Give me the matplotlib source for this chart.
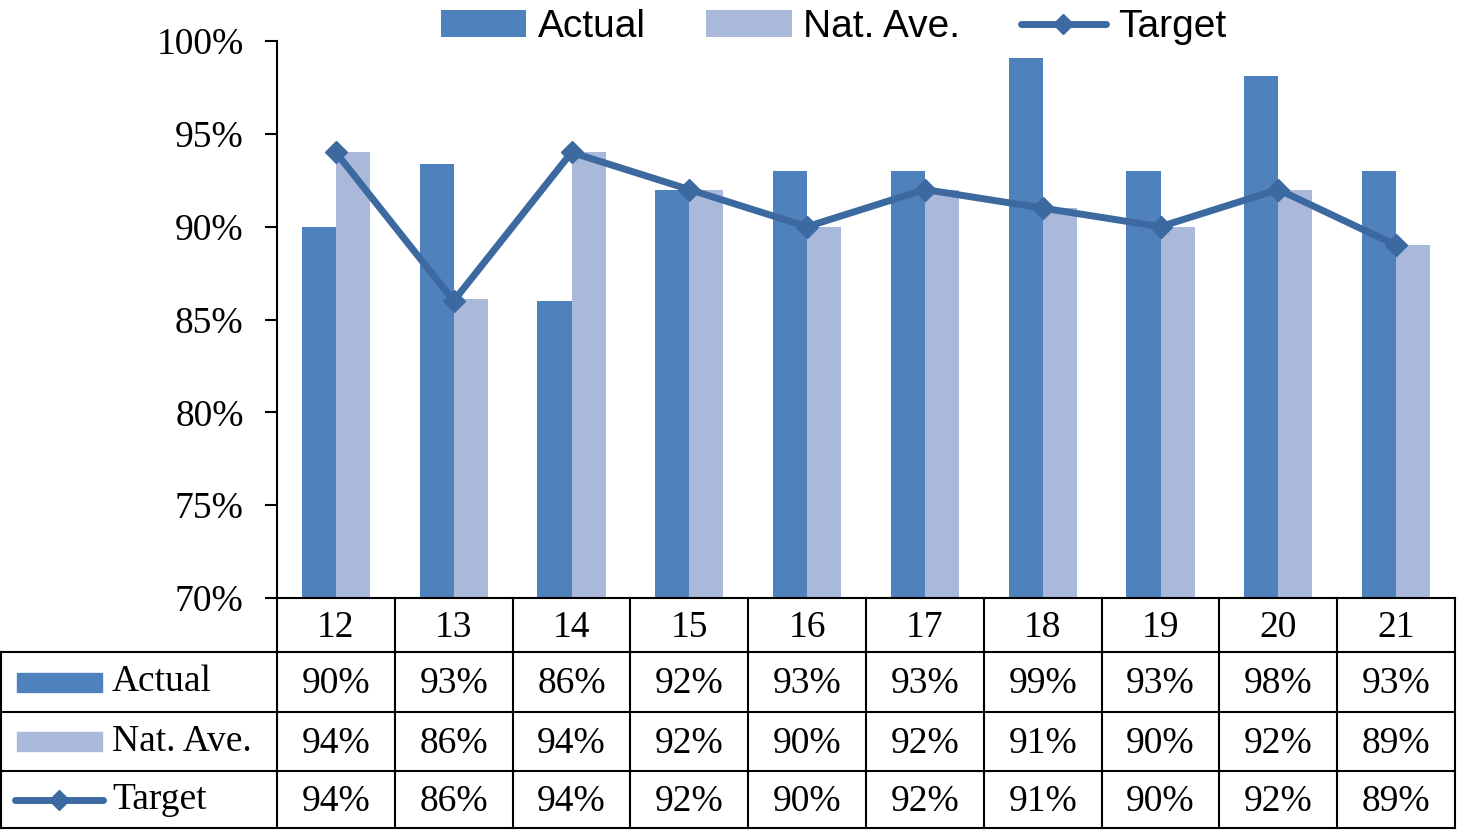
import numpy as np
import matplotlib
matplotlib.use("Agg")
import matplotlib.pyplot as plt
from matplotlib.patches import Rectangle
from matplotlib.lines import Line2D
from matplotlib.transforms import blended_transform_factory

# datos
categorias = ["12", "13", "14", "15", "16", "17", "18", "19", "20", "21"]
actual = [90.0, 93.4, 86.0, 92.0, 93.0, 93.0, 99.1, 93.0, 98.1, 93.0]
nat_ave = [94.0, 86.1, 94.0, 92.0, 90.0, 92.0, 91.0, 90.0, 92.0, 89.0]
target = [94.0, 86.0, 94.0, 92.0, 90.0, 92.0, 91.0, 90.0, 92.0, 89.0]
series_nombres = ["Actual", "Nat. Ave.", "Target"]
yticks = [70, 75, 80, 85, 90, 95, 100]

c_actual = "#4F81BD"
c_nat = "#AAB9D9"
c_target = "#3C6AA0"

serif = "Liberation Serif"
sans = "Liberation Sans"
fs = 27

W, H = 1457, 830
fig = plt.figure(figsize=(W / 100, H / 100), dpi=100)
ax = fig.add_axes([277 / W, 1 - 598 / H, (1455 - 277) / W, (598 - 41) / H])

x = np.arange(len(categorias))
bw = 0.29
b1 = ax.bar(x - bw / 2, actual, bw, color=c_actual, label=series_nombres[0], zorder=2)
b2 = ax.bar(x + bw / 2, nat_ave, bw, color=c_nat, label=series_nombres[1], zorder=2)
l1, = ax.plot(x, target, color=c_target, lw=5, marker="D", ms=11,
              label=series_nombres[2], zorder=3, solid_capstyle="round")

ax.set_xlim(-0.5, len(categorias) - 0.5)
ax.set_ylim(70, 100)
ax.set_yticks(yticks)
ax.set_yticklabels([f"{v}%" for v in yticks], fontfamily=serif, fontsize=fs)
ax.tick_params(axis="y", length=9, width=1.5, pad=15)
ax.set_xticks([])
for s in ["top", "right", "bottom"]:
    ax.spines[s].set_visible(False)
ax.spines["left"].set_linewidth(1.5)

# leyenda superior
fig.legend(handles=[b1, b2, l1], loc="upper center", bbox_to_anchor=(0.572, 1.031),
           ncol=3, frameon=False, prop={"family": sans, "size": 28},
           handlelength=2.2, handletextpad=0.3, columnspacing=1.55, markerscale=0.9)

# tabla de datos
tr = blended_transform_factory(ax.transData, fig.transFigure)
ftr = fig.transFigure
lw = 1.5
y_rows = [598, 652, 712, 771, 828]
yf = [1 - v / H for v in y_rows]
xl, xr = -0.5, len(categorias) - 0.5

# lineas horizontales
ax.add_line(Line2D([xl, xr], [yf[0], yf[0]], transform=tr, color="black", lw=lw, clip_on=False))
for yy in yf[1:]:
    fig.add_artist(Line2D([1 / W, 1455 / W], [yy, yy], transform=ftr, color="black", lw=lw))
# verticales
for k in range(len(categorias) + 1):
    ax.add_line(Line2D([xl + k, xl + k], [yf[0], yf[-1]], transform=tr, color="black",
                       lw=lw, clip_on=False))
fig.add_artist(Line2D([1 / W, 1 / W], [yf[1], yf[-1]], transform=ftr, color="black", lw=lw))

# encabezados
for i, c in enumerate(categorias):
    ax.text(x[i], (yf[0] + yf[1]) / 2 - 3 / H, c, transform=tr, ha="center", va="center",
            fontfamily=serif, fontsize=fs)

filas = [actual, nat_ave, target]
for r, vals in enumerate(filas):
    yc = (yf[r + 1] + yf[r + 2]) / 2
    for i, v in enumerate(vals):
        ax.text(x[i], yc - 2 / H, f"{round(v):.0f}%", transform=tr, ha="center", va="center",
                fontfamily=serif, fontsize=fs)
    fig.text(112 / W, yc, series_nombres[r], ha="left", va="center",
             fontfamily=serif, fontsize=fs)

# claves de la tabla
kh = 19 / H
for r, col in enumerate([c_actual, c_nat]):
    yc = (yf[r + 1] + yf[r + 2]) / 2
    fig.add_artist(Rectangle((17 / W, yc - kh / 2), 85 / W, kh, transform=ftr,
                             color=col))
yc = (yf[3] + yf[4]) / 2
fig.add_artist(Line2D([15 / W, 103 / W], [yc, yc], transform=ftr, color=c_target, lw=5,
                      solid_capstyle="round"))
fig.add_artist(Line2D([59 / W], [yc], transform=ftr, color=c_target, marker="D", ms=10))

fig.savefig("out.png", dpi=100)
